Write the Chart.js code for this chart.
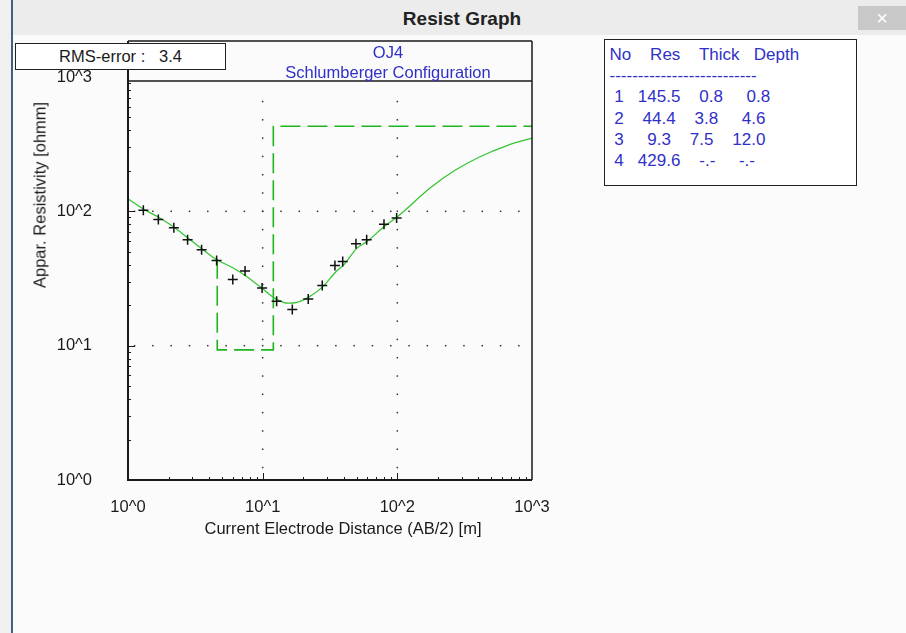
<!DOCTYPE html>
<html>
<head>
<meta charset="utf-8">
<title>Resist Graph</title>
<script src="https://cdn.jsdelivr.net/npm/chart.js@4.4.1/dist/chart.umd.min.js"></script>
<style>
  body { margin:0; width:906px; height:633px; position:relative; overflow:hidden; background:#fbfbfb;
         font-family:"Liberation Sans", Arial, sans-serif; color:#1a1a1a; }
  #bar { position:absolute; left:0; top:0; width:906px; height:35px; background:#ececec; }
  #bar span { position:absolute; left:0; width:924px; top:8px; text-align:center; font-weight:bold; font-size:19px; color:#222; }
  #close { position:absolute; left:858px; top:6px; width:48px; height:24px; background:#c8c8c8; color:#fff;
           font-size:20px; line-height:24px; text-align:center; }
  #edgeL { position:absolute; left:0; top:0; width:11px; height:633px; background:#f0f0f0; }
  #edge { position:absolute; left:11px; top:0; width:2px; height:633px; background:#44607f; }
  canvas { position:absolute; left:0; top:0; }
  #rms { position:absolute; left:15px; top:43px; width:211px; height:27px; box-sizing:border-box; border:1.5px solid #222;
         background:#fff; font-size:16.5px; line-height:25px; text-align:center; white-space:pre; }
  #cfg { position:absolute; left:188px; top:42px; width:400px; text-align:center; font-size:16.5px; line-height:20px; color:#3030c8; }
  #layers { position:absolute; left:604px; top:39px; width:253px; height:147px; box-sizing:border-box; border:1.5px solid #222;
            background:#fff; }
  #layers pre { margin:0; position:absolute; left:4.5px; top:3.8px; font-family:"Liberation Sans", Arial, sans-serif;
                font-size:17px; line-height:21.3px; color:#3030c8; }
  .title { position:absolute; white-space:nowrap; font-size:16.5px; transform:translate(-50%,-50%); }
  #ytitle { left:40px; top:195px; transform:translate(-50%,-50%) rotate(-90deg); }
  #xtitle { left:343px; top:528px; }
</style>
</head>
<body>
<div id="bar"><span>Resist Graph</span></div>
<div id="close">×</div>
<div id="edgeL"></div>
<div id="edge"></div>
<canvas id="graph" width="906" height="633"></canvas>
<div id="rms"></div>
<div id="cfg"></div>
<div id="layers"><pre id="layerText"></pre></div>
<div class="title" id="ytitle">Appar. Resistivity [ohmm]</div>
<div class="title" id="xtitle">Current Electrode Distance (AB/2) [m]</div>
<script>
// mediciones (AB/2 y resistividad aparente)
const abHalf = [1.3, 1.68, 2.19, 2.77, 3.52, 4.55, 6.0, 7.4, 9.9, 12.7, 16.6, 21.8, 27.7, 34.4, 39.3, 49.3, 59.2, 79.6, 98.8]
const rhoMeas = [101.7, 87, 75.5, 61.5, 51.8, 43.1, 31.1, 35.9, 26.9, 21.4, 18.6, 22.3, 28.0, 39.5, 42.4, 57.4, 61.5, 80.0, 89.1]

// curva calculada del modelo
const curveX = [1, 1.3, 1.7, 2.2, 2.8, 3.5, 4.5, 6, 7.5, 10, 12.5, 15.5, 18, 22, 28, 35, 40, 50, 60, 80, 100, 175, 268, 411, 652, 1000]
const curveY = [124, 104, 90, 76, 63, 53, 44, 38, 33, 26.5, 22.3, 20.7, 21, 23, 27.5, 35.5, 40, 53, 60, 77, 91, 149, 202, 255, 309, 351]

// capas
const layerNo = [1, 2, 3, 4]
const layerRes = [145.5, 44.4, 9.3, 429.6]
const layerThick = [0.8, 3.8, 7.5, null]
const layerDepth = [0.8, 4.6, 12.0, null]

const rmsError = 3.4
const titleLines = ['OJ4', 'Schlumberger Configuration']

const tickValues = [1, 10, 100, 1000]
const xTickLabels = ['10^0', '10^1', '10^2', '10^3']
const yTickLabels = ['10^0', '10^1', '10^2', '10^3']
const gridValues = [10, 100]

document.getElementById('rms').textContent = 'RMS-error :   ' + rmsError.toFixed(1)
document.getElementById('cfg').innerHTML = titleLines.join('<br>')

const fmt = (v, n) => (v == null ? '-.-' : v.toFixed(1)).padStart(n)
let txt = 'No    Res    Thick   Depth\n' + '-'.repeat(26) + '\n'
layerNo.forEach((n, i) => {
  txt += ' ' + n + fmt(layerRes[i], 8) + fmt(layerThick[i], 7) + fmt(layerDepth[i], 8) + '\n'
})
document.getElementById('layerText').textContent = txt

// escalones del modelo
const steps = []
for (let i = 1; i < layerDepth.length - 1; i++) {
  steps.push({ x: layerDepth[i], y: layerRes[i] }, { x: layerDepth[i], y: layerRes[i + 1] })
}
steps.push({ x: 1000, y: layerRes[layerRes.length - 1] })

const meas = abHalf.map((x, i) => ({ x, y: rhoMeas[i] }))
const curve = curveX.map((x, i) => ({ x, y: curveY[i] }))

// marco, puntos de rejilla y marcas menores
const framePlugin = {
  id: 'frame',
  beforeDatasetsDraw(chart) {
    const { ctx, chartArea: a, scales: { x, y } } = chart
    const top = a.top + 4
    const step = 18.3
    const along = (start, end, anchor, cb) => {
      let p = anchor - Math.floor((anchor - start) / step) * step
      for (; p < end; p += step) cb(p)
    }
    ctx.save()
    ctx.fillStyle = '#333'
    const ax = x.getPixelForValue(gridValues[0])
    const ay = y.getPixelForValue(gridValues[1])
    gridValues.forEach(v => {
      const py = y.getPixelForValue(v)
      along(a.left + 3, a.right - 2, ax, px => ctx.fillRect(px - 0.75, py - 0.75, 1.5, 1.5))
      const px = x.getPixelForValue(v)
      along(top + 3, a.bottom - 2, ay, p => ctx.fillRect(px - 0.75, p - 0.75, 1.5, 1.5))
    })
    ctx.restore()
  },
  afterDatasetsDraw(chart) {
    const { ctx, chartArea: a, scales: { x, y } } = chart
    const top = a.top + 4
    const boxTop = a.top - 36
    ctx.save()
    ctx.strokeStyle = '#1a1a1a'
    ctx.lineWidth = 1
    for (let d = 0; d < 3; d++) {
      for (let k = 1; k < 10; k++) {
        if (d === 0 && k === 1) continue
        const v = k * Math.pow(10, d)
        const len = k === 1 ? 7 : 3
        const py = Math.round(y.getPixelForValue(v)) + 0.5
        if (py > top) {
          ctx.beginPath(); ctx.moveTo(a.left, py); ctx.lineTo(a.left + len, py); ctx.stroke()
        }
        const px = Math.round(x.getPixelForValue(v)) + 0.5
        ctx.beginPath(); ctx.moveTo(px, a.bottom); ctx.lineTo(px, a.bottom - len); ctx.stroke()
      }
    }
    ctx.lineWidth = 1.5
    ctx.beginPath()
    ctx.moveTo(a.left, boxTop); ctx.lineTo(a.right, boxTop)
    ctx.moveTo(a.left, top); ctx.lineTo(a.right, top)
    ctx.moveTo(a.right, boxTop); ctx.lineTo(a.right, a.bottom)
    ctx.stroke()
    ctx.lineWidth = 2
    ctx.beginPath()
    ctx.moveTo(a.left, boxTop); ctx.lineTo(a.left, a.bottom); ctx.lineTo(a.right, a.bottom)
    ctx.stroke()
    ctx.restore()
  }
}

const tickFont = { family: '"Liberation Sans", Arial, sans-serif', size: 16.5 }

new Chart(document.getElementById('graph'), {
  type: 'scatter',
  data: {
    datasets: [
      { label: 'Medido', data: meas, pointStyle: 'cross', pointRadius: 5, pointBorderWidth: 1.5,
        borderColor: '#111', backgroundColor: '#111', showLine: false },
      { label: 'Curva', data: curve, showLine: true, borderColor: '#34c634', borderWidth: 1.3,
        pointRadius: 0, cubicInterpolationMode: 'monotone' },
      { label: 'Modelo', data: steps, showLine: true, borderColor: '#1fb51f', borderWidth: 1.6,
        borderDash: [20, 7], pointRadius: 0, tension: 0 }
    ]
  },
  options: {
    responsive: false,
    animation: false,
    devicePixelRatio: 1,
    layout: { padding: { left: 0, top: 77, right: 374, bottom: 0 } },
    plugins: { legend: { display: false }, tooltip: { enabled: false } },
    scales: {
      x: {
        type: 'logarithmic', min: 1, max: 1000,
        grid: { display: false }, border: { display: false },
        afterBuildTicks: s => { s.ticks = tickValues.map(v => ({ value: v })) },
        afterFit: s => { s.height = 153 },
        ticks: { font: tickFont, color: '#1a1a1a', padding: 10, maxRotation: 0,
                 callback: (v, i) => xTickLabels[i] }
      },
      y: {
        type: 'logarithmic', min: 1, max: 1000,
        grid: { display: false }, border: { display: false },
        afterBuildTicks: s => { s.ticks = tickValues.map(v => ({ value: v })) },
        afterFit: s => { s.width = 128 },
        ticks: { font: tickFont, color: '#1a1a1a', padding: 28,
                 callback: (v, i) => yTickLabels[i] }
      }
    }
  },
  plugins: [framePlugin]
})
</script>
</body>
</html>
